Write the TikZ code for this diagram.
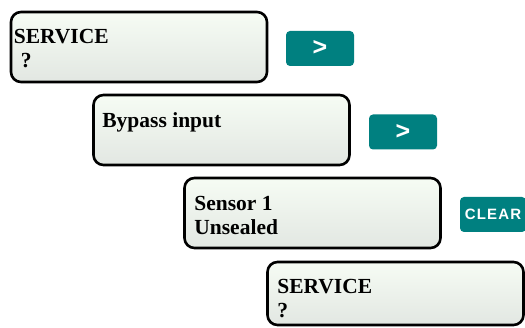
\documentclass[tikz,border=0pt]{standalone}
\usepackage{fontspec}
\setmainfont{Liberation Serif}
\newfontfamily\keyfont{Liberation Sans}
\newfontfamily\keyfontsp[LetterSpace=8]{Liberation Sans}
\usetikzlibrary{positioning}

\definecolor{keyteal}{RGB}{0,128,128}
\definecolor{lcdtop}{RGB}{246,252,244}
\definecolor{lcdbot}{RGB}{226,231,226}

\begin{document}
\begin{tikzpicture}[x=1pt, y=-1pt,
    screen/.style={draw=black, line width=2.6pt, rounded corners=10pt, top color=lcdtop, bottom color=lcdbot, minimum width=256pt, minimum height=70pt, inner sep=0pt},
    lcdtxt/.style={anchor=base west, inner sep=0pt, align=left, font=\fontsize{21.5}{24}\selectfont\bfseries},
    key/.style={fill=keyteal, rounded corners=4pt, minimum width=68pt, minimum height=35pt, inner sep=0pt, text=white, font=\keyfont\fontsize{25}{25}\selectfont\bfseries}
]
\useasboundingbox (0,0) rectangle (525,328);

% screens
\node[screen] (scr1) at (139,47) {};
\node[screen] (scr2) at (221.5,130) {};
\node[screen] (scr3) at (312.5,213) {};
\node[screen, minimum height=63pt] (scr4) at (395.5,293.5) {};

% screen texts (base = last line)
\node[lcdtxt] (txt1) at ([xshift=4pt,yshift=-57pt]scr1.north west) {SERVICE\\\hspace*{7pt}?};
\node[lcdtxt] (txt2) at ([xshift=10pt,yshift=-34pt]scr2.north west) {Bypass input};
\node[lcdtxt] (txt3) at ([xshift=11pt,yshift=-58pt]scr3.north west) {Sensor 1\\Unsealed};
\node[lcdtxt] (txt4) at ([xshift=11pt,yshift=-57pt]scr4.north west) {SERVICE\\?};

% keys
\node[key] (next1) at (320,48.5) {>};
\node[key] (next2) at (403,132) {>};
\node[key, minimum width=66pt, font=\keyfontsp\fontsize{15}{15}\selectfont\bfseries] (clr) at (493,214.5) {CLEAR};
\end{tikzpicture}
\end{document}
